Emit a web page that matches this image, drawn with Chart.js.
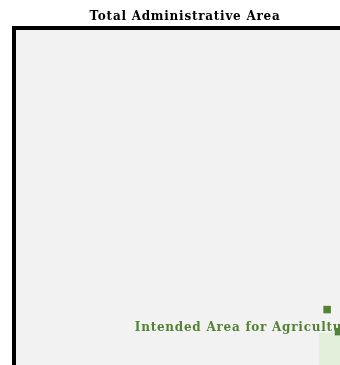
<!DOCTYPE html>
<html>
<head>
<meta charset="utf-8">
<script src="https://cdn.jsdelivr.net/npm/chart.js@4/dist/chart.umd.min.js"></script>
<style>
  html, body { margin: 0; padding: 0; overflow: hidden; background: #ffffff; }
  #wrap { width: 340px; height: 365px; overflow: hidden; position: relative; }
  canvas { display: block; }
</style>
</head>
<body>
<div id="wrap"><canvas id="c" width="370" height="420" style="width:370px;height:420px"></canvas></div>
<script>
// ---- data (relative areas, total = 100) ----
const categories = ['Total Administrative Area', 'Intended Area for Agriculture'];
const areaValues = [100, 3.9];
// small marker squares (data units of square side)
const markerX = [8.24, 8.54];
const markerY = [7.41, 7.99];
// label anchor (data units)
const labelX = [3.18];
const labelY = [7.97];

const colors = { total: '#f2f2f2', border: '#000000', agri: '#e2efda', dark: '#548235' };
const textSpacing = '0.75px';

const totalSide = Math.sqrt(areaValues[0]);
const agriSide = Math.sqrt(areaValues[1]);

function squarePts(x0, y0, s) {
  return [{x: x0, y: y0 + s}, {x: x0, y: y0}, {x: x0 + s, y: y0}, {x: x0 + s, y: y0 + s}, {x: x0, y: y0 + s}];
}

const spacingPlugin = {
  id: 'spacing',
  beforeDraw(chart) { chart.ctx.letterSpacing = textSpacing; },
  afterDraw(chart) { chart.ctx.letterSpacing = '0px'; }
};

const labelPlugin = {
  id: 'areaLabel',
  afterDatasetsDraw(chart) {
    const {ctx, scales} = chart;
    ctx.save();
    ctx.letterSpacing = textSpacing;
    ctx.font = 'bold 12px "DejaVu Serif"';
    ctx.fillStyle = colors.dark;
    ctx.textAlign = 'left';
    ctx.textBaseline = 'alphabetic';
    ctx.fillText(categories[1], scales.x.getPixelForValue(labelX[0]), scales.y.getPixelForValue(labelY[0]));
    ctx.restore();
  }
};

new Chart(document.getElementById('c'), {
  type: 'scatter',
  data: {
    datasets: [
      {
        label: categories[0],
        type: 'line',
        data: squarePts(0, 0, totalSide).slice(0, 4),
        showLine: true,
        fill: 'shape',
        backgroundColor: colors.total,
        borderColor: colors.border,
        borderWidth: 4,
        borderJoinStyle: 'miter',
        borderCapStyle: 'butt',
        pointRadius: 0,
        tension: 0,
        clip: false,
        order: 3
      },
      {
        label: categories[1],
        type: 'line',
        data: squarePts(totalSide - agriSide, totalSide - agriSide, agriSide),
        showLine: true,
        fill: 'shape',
        backgroundColor: colors.agri,
        borderWidth: 0,
        borderColor: 'rgba(0,0,0,0)',
        pointRadius: 0,
        tension: 0,
        clip: false,
        order: 2
      },
      {
        label: 'markers',
        data: markerX.map((x, i) => ({x: x, y: markerY[i]})),
        pointStyle: 'rect',
        pointRadius: 5.3,
        backgroundColor: colors.dark,
        borderWidth: 0,
        clip: false,
        order: 1
      }
    ]
  },
  options: {
    responsive: false,
    animation: false,
    devicePixelRatio: 1,
    layout: { padding: 0, autoPadding: false },
    scales: {
      x: { type: 'linear', display: false, min: -14 / 38, max: 356 / 38 },
      y: { type: 'linear', display: false, reverse: true, min: 0, max: 392 / 38 }
    },
    plugins: {
      legend: { display: false },
      tooltip: { enabled: false },
      title: {
        display: true,
        text: categories[0],
        color: '#000000',
        font: { family: '"DejaVu Serif"', weight: 'bold', size: 12, lineHeight: 1.2 },
        padding: { top: 9.8, bottom: 3.8 }
      }
    }
  },
  plugins: [spacingPlugin, labelPlugin]
});
</script>
</body>
</html>
